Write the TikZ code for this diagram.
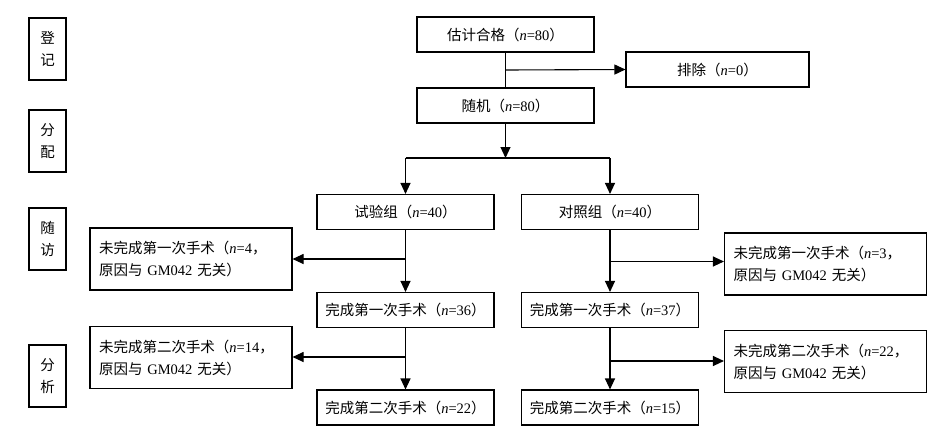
\documentclass[tikz,border=0pt]{standalone}
\usepackage{fontspec}
\setmainfont{Liberation Serif}
\newfontfamily\cjk{Noto Sans CJK SC}
\usetikzlibrary{arrows.meta}
\newcommand\zh[1]{{\cjk #1}}
\newcommand\nn{\textit{n}}
\begin{document}
\begin{tikzpicture}[x=1pt,y=-1pt,
  box/.style={draw, line width=1.1pt, minimum width=177pt, minimum height=35pt,
    inner sep=0pt, font=\fontsize{14.5}{22}\selectfont, anchor=center},
  sidebox/.style={box, minimum width=37pt, minimum height=62pt, align=center},
  notebox/.style={box, minimum width=202pt, minimum height=62pt, text width=184pt,
    inner xsep=9pt, align=left},
  arr/.style={-{Triangle[length=11pt,width=10pt]}, line width=1.1pt},
  ln/.style={line width=1.1pt}]
\useasboundingbox (0,0) rectangle (935,440);
% side labels
\node[sidebox] (reg) at (47.5,49) {\zh{登}\\\zh{记}};
\node[sidebox] (alloc) at (47.5,141) {\zh{分}\\\zh{配}};
\node[sidebox] (fu) at (47.5,239) {\zh{随}\\\zh{访}};
\node[sidebox] (ana) at (47.5,376) {\zh{分}\\\zh{析}};
% main boxes
\node[box] (est) at (505.5,34.5) {\zh{估计合格（}\nn=80\zh{）}};
\node[box, minimum width=183pt] (excl) at (717.5,69.5) {\zh{排除（}\nn=0\zh{）}};
\node[box] (rand) at (505.5,105.5) {\zh{随机（}\nn=80\zh{）}};
\node[box] (exp) at (405.5,212) {\zh{试验组（}\nn=40\zh{）}};
\node[box] (ctl) at (610,212) {\zh{对照组（}\nn=40\zh{）}};
\node[box] (e1) at (405.5,310) {\zh{完成第一次手术（}\nn=36\zh{）}};
\node[box] (c1) at (610,310) {\zh{完成第一次手术（}\nn=37\zh{）}};
\node[box] (e2) at (405.5,407.5) {\zh{完成第二次手术（}\nn=22\zh{）}};
\node[box] (c2) at (610,407.5) {\zh{完成第二次手术（}\nn=15\zh{）}};
% side notes
\node[notebox] (le1) at (191,259) {\zh{未完成第一次手术（}\nn=4\zh{，}\\\zh{原因与} GM042 \zh{无关）}};
\node[notebox] (le2) at (191,357.5) {\zh{未完成第二次手术（}\nn=14\zh{，}\\\zh{原因与} GM042 \zh{无关）}};
\node[notebox, minimum width=201pt] (rc1) at (825.5,264) {\zh{未完成第一次手术（}\nn=3\zh{，}\\\zh{原因与} GM042 \zh{无关）}};
\node[notebox, minimum width=201pt] (rc2) at (825.5,361.5) {\zh{未完成第二次手术（}\nn=22\zh{，}\\\zh{原因与} GM042 \zh{无关）}};
% connectors
\coordinate (s0) at (505.5,70);
\draw[ln] (est.south) -- (rand.north);
\draw[arr] (s0) -- (excl.west);
\coordinate (s1) at (505.5,158);
\draw[arr] (rand.south) -- (s1);
\draw[ln] (exp.north |- s1) -- (ctl.north |- s1);
\draw[arr] (exp.north |- s1) -- (exp.north);
\draw[arr] (ctl.north |- s1) -- (ctl.north);
\coordinate (b1) at (405.5,259);
\coordinate (b2) at (405.5,357);
\coordinate (b3) at (609,261.5);
\coordinate (b4) at (609,361);
\draw[arr] (exp.south) -- (e1.north);
\draw[arr] (e1.south) -- (e2.north);
\draw[arr] (ctl.south) -- (c1.north);
\draw[arr] (c1.south) -- (c2.north);
\draw[arr] (b1) -- (le1.east |- b1);
\draw[arr] (b2) -- (le2.east |- b2);
\draw[arr] (b3) -- (rc1.west |- b3);
\draw[arr] (b4) -- (rc2.west |- b4);
\end{tikzpicture}
\end{document}
